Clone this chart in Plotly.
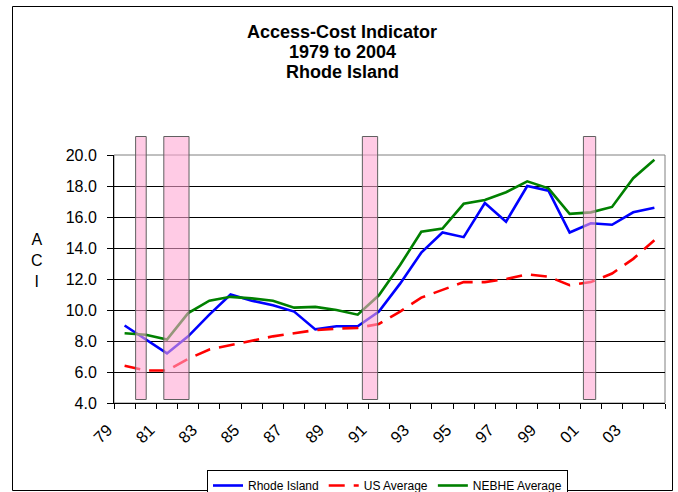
import plotly.graph_objects as go

# ---- data ----
years = list(range(1979, 2005))
tick_years = list(range(1979, 2004, 2))
tick_labels = ["79", "81", "83", "85", "87", "89", "91", "93", "95", "97", "99", "01", "03"]

rhode_island = [9.0, 8.1, 7.2, 8.3, 9.7, 11.0, 10.6, 10.3, 9.9, 8.75, 8.95, 8.95, 9.9,
                11.7, 13.7, 15.0, 14.7, 16.9, 15.7, 18.0, 17.7, 15.0, 15.6, 15.5, 16.3, 16.6]
us_average = [6.4, 6.1, 6.1, 6.85, 7.45, 7.75, 8.05, 8.3, 8.5, 8.7, 8.8, 8.85, 9.1,
              9.9, 10.8, 11.3, 11.8, 11.8, 12.0, 12.3, 12.15, 11.6, 11.8, 12.35, 13.3, 14.5]
nebhe_average = [8.5, 8.4, 8.1, 9.8, 10.6, 10.85, 10.75, 10.6, 10.15, 10.2, 10.0, 9.7, 10.95,
                 12.9, 15.05, 15.25, 16.85, 17.1, 17.6, 18.3, 17.85, 16.2, 16.3, 16.65, 18.5, 19.7]

# recession bands (axis positions in year units)
recession_start = [1979.52, 1980.85, 1990.22, 2000.65]
recession_end = [1980.02, 1982.04, 1990.94, 2001.23]

title_lines = ["Access-Cost Indicator", "1979 to 2004", "Rhode Island"]

# ---- layout geometry (pixels) ----
W, H = 678, 492
PL, PR, PT, PB = 114, 665, 155, 403  # plot area edges


def px_x(p):
    return (p - PL) / (PR - PL)


def px_y(p):
    return (PB - p) / (PB - PT)


FONT = "Liberation Sans, Arial, sans-serif"

fig = go.Figure()
fig.add_trace(go.Scatter(x=years, y=rhode_island, name="Rhode Island", mode="lines",
                         line=dict(color="#0000ff", width=2.6)))
fig.add_trace(go.Scatter(x=years, y=us_average, name="US Average", mode="lines",
                         line=dict(color="#ff0000", width=2.6, dash="16px,9px")))
fig.add_trace(go.Scatter(x=years, y=nebhe_average, name="NEBHE Average", mode="lines",
                         line=dict(color="#008000", width=2.6)))

shapes = []
# outer chart frame
shapes.append(dict(type="rect", xref="paper", yref="paper",
                   x0=px_x(12.5), x1=px_x(672.5), y0=px_y(490.5), y1=px_y(6.5),
                   line=dict(color="#000000", width=1), fillcolor="rgba(0,0,0,0)", layer="below"))
# plot area border (gray)
shapes.append(dict(type="rect", xref="paper", yref="paper", x0=0, x1=1, y0=0, y1=1,
                   line=dict(color="#808080", width=1), fillcolor="rgba(0,0,0,0)", layer="below"))
# recession bars
for s, e in zip(recession_start, recession_end):
    shapes.append(dict(type="rect", xref="x", yref="paper", x0=s, x1=e,
                       y0=px_y(399.5), y1=px_y(136.5),
                       line=dict(color="#606060", width=1),
                       fillcolor="rgba(255,165,210,0.58)", layer="above"))

annotations = [dict(text="A<br>C<br>I", xref="paper", yref="paper",
                    x=px_x(37), y=px_y(260), xanchor="center", yanchor="middle",
                    showarrow=False, font=dict(size=16, family=FONT))]
for i, line in enumerate(title_lines):
    annotations.append(dict(text="<b>" + line + "</b>", xref="paper", yref="paper",
                            x=px_x(342), y=px_y(32 + 20 * i), xanchor="center", yanchor="middle",
                            showarrow=False, font=dict(size=18, family=FONT)))

fig.update_layout(
    width=W, height=H,
    margin=dict(l=PL, r=W - PR, t=PT, b=H - PB, pad=0, autoexpand=False),
    paper_bgcolor="white", plot_bgcolor="white",
    font=dict(family=FONT, color="#000000"),
    shapes=shapes,
    annotations=annotations,
    showlegend=True,
    legend=dict(orientation="h", x=px_x(207), y=px_y(470), xanchor="left", yanchor="top",
                bordercolor="#000000", borderwidth=1, bgcolor="white",
                font=dict(size=12, family=FONT), itemwidth=30, tracegroupgap=0),
)

fig.update_xaxes(range=[1978.5, 2004.5], tickvals=tick_years, ticktext=tick_labels,
                 tickangle=-45, ticks="", showgrid=False, zeroline=False, automargin=False,
                 showline=True, linecolor="#000000", linewidth=1,
                 ticklabelstandoff=10, ticklabelshift=-17,
                 tickfont=dict(size=16.5, family=FONT),
                 minor=dict(ticks="outside", ticklen=5, tickcolor="#000000",
                            tick0=1978.5, dtick=1, showgrid=False))
fig.update_yaxes(range=[4, 20], dtick=2, tick0=4, tickformat=".1f", automargin=False,
                 ticks="outside", ticklen=6, tickcolor="#000000", ticklabelstandoff=7,
                 showgrid=True, gridcolor="#000000", gridwidth=1, zeroline=False,
                 showline=True, linecolor="#000000", linewidth=1,
                 tickfont=dict(size=16, family=FONT))

fig.write_html("out.html", config={"displayModeBar": False},
               post_script="document.body.style.margin='0';document.body.style.overflow='hidden';")
